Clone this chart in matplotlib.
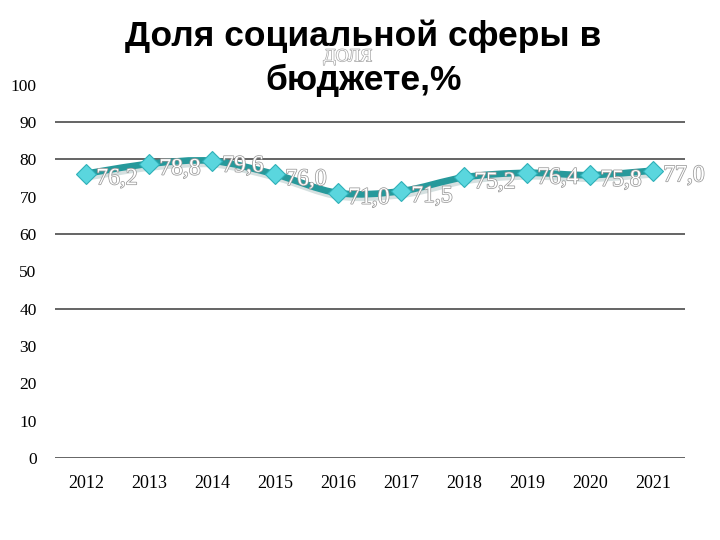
import matplotlib
matplotlib.use("Agg")
import matplotlib.pyplot as plt
import matplotlib.patheffects as pe
from matplotlib.path import Path
from matplotlib.patches import PathPatch

years = ["2012", "2013", "2014", "2015", "2016", "2017", "2018", "2019", "2020", "2021"]
values = [76.2, 78.8, 79.6, 76.0, 71.0, 71.5, 75.2, 76.4, 75.8, 77.0]
yticks = [0, 10, 20, 30, 40, 50, 60, 70, 80, 90, 100]
grid_levels = [0, 40, 60, 80, 90]
title = "Доля социальной сферы в\nбюджете,%"
series_name = "ДОЛЯ"

fig = plt.figure(figsize=(7.2, 5.4), dpi=100)
ax = fig.add_axes([0.076, 0.152, 0.875, 0.691])
x = list(range(len(years)))
ax.set_xlim(-0.5, len(years) - 0.5)
ax.set_ylim(0, 100)

for g in grid_levels:
    ax.axhline(g, color="#3a3a3a", lw=1.1, zorder=1)


def smooth_path(xs, ys, dy=0.0, dx=0.0):
    pts = [(a + dx, b + dy) for a, b in zip(xs, ys)]
    verts = [pts[0]]
    codes = [Path.MOVETO]
    n = len(pts)
    for i in range(n - 1):
        p0 = pts[i - 1] if i > 0 else pts[i]
        p1 = pts[i]
        p2 = pts[i + 1]
        p3 = pts[i + 2] if i + 2 < n else pts[i + 1]
        c1 = (p1[0] + (p2[0] - p0[0]) / 6.0, p1[1] + (p2[1] - p0[1]) / 6.0)
        c2 = (p2[0] - (p3[0] - p1[0]) / 6.0, p2[1] - (p3[1] - p1[1]) / 6.0)
        verts += [c1, c2, p2]
        codes += [Path.CURVE4] * 3
    return Path(verts, codes)


ax.add_patch(PathPatch(smooth_path(x, values, dy=-0.9, dx=0.03), fill=False,
                       edgecolor="#b9cccc", lw=5, alpha=0.6, zorder=2, capstyle="round"))
ax.add_patch(PathPatch(smooth_path(x, values), fill=False, edgecolor="#26999b",
                       lw=4.8, zorder=3, capstyle="round", joinstyle="round"))
ax.plot(x, values, ls="none", marker="D", ms=10, mfc="#5ad6de", mec="#2fb0b8", mew=0.8, zorder=4)

for xi, v in zip(x, values):
    ax.text(xi + 0.16, v - 1.4, f"{v:.1f}".replace(".", ","), fontsize=17, color="white",
            family="Liberation Serif", ha="left", va="center", zorder=5,
            path_effects=[pe.withStroke(linewidth=1.1, foreground="#9a9a9a")])

fig.text(0.483, 0.895, series_name, fontsize=13, color="white",
         family="Liberation Serif", ha="center", va="center", zorder=0,
         path_effects=[pe.withStroke(linewidth=1.0, foreground="#a8a8a8")])

ax.set_xticks(x)
ax.set_xticklabels(years, family="Liberation Serif", fontsize=13)
ax.set_yticks(yticks)
ax.set_yticklabels([str(t) for t in yticks], family="Liberation Serif", fontsize=12.5)
ax.tick_params(length=0, pad=12)
ax.tick_params(axis="y", pad=13)
for s in ax.spines.values():
    s.set_visible(False)

fig.text(0.505, 0.963, title, ha="center", va="top", fontsize=25.5, fontweight="bold",
         family="Liberation Sans", linespacing=1.4, zorder=3)

fig.savefig("out.png", dpi=100)
